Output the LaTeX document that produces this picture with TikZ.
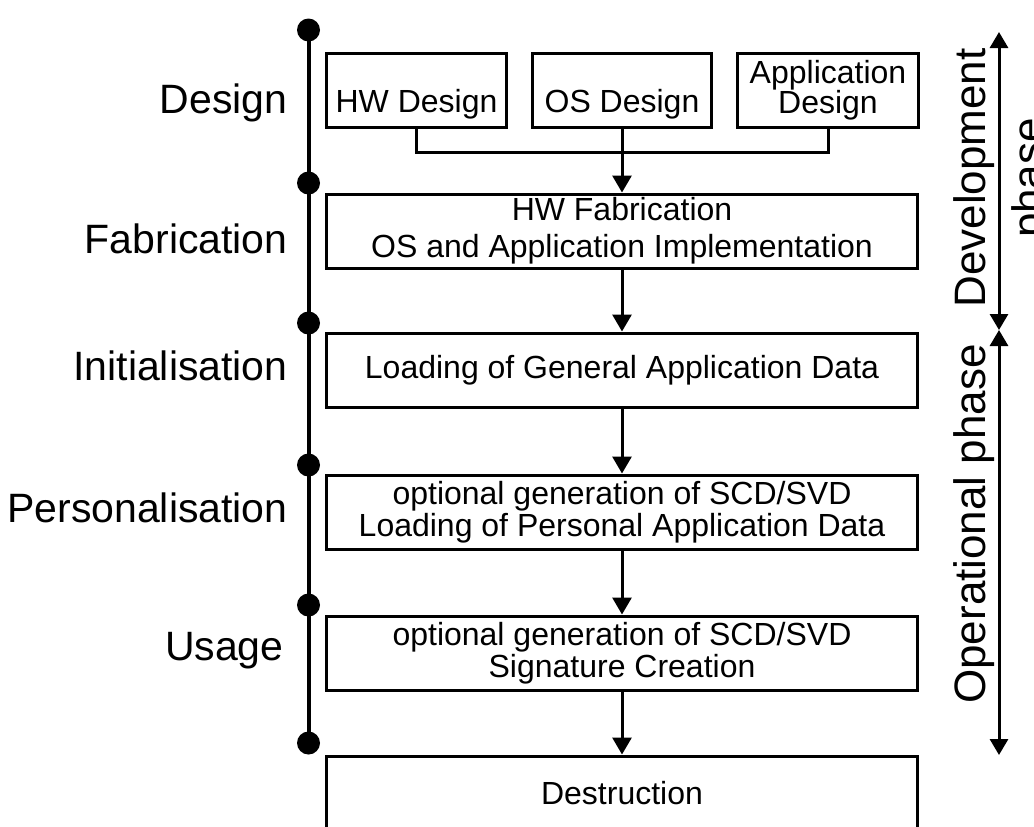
\documentclass[tikz,border=0pt]{standalone}
\usepackage{fontspec}
\setmainfont{Liberation Sans}
\usetikzlibrary{arrows.meta}
\begin{document}
\begin{tikzpicture}[x=0.5pt,y=-0.5pt,
  box/.style={draw,line width=1.5pt,inner sep=0pt,align=center,minimum height=37pt,
    font={\fontsize{16}{#1}\selectfont\lineskiplimit=-20pt}},
  box/.default=17,
  stage/.style={anchor=base east,inner sep=0pt,font=\fontsize{20.5}{24}\selectfont},
  phase/.style={rotate=90,inner sep=0pt,align=center,
    font={\fontsize{22}{29}\selectfont\lineskiplimit=-20pt}},
  dot/.style={circle,fill,inner sep=0pt,minimum size=11.5pt},
  arr/.style={line width=1.5pt,-{Triangle[length=8.5pt,width=9.5pt]}},
  phasearr/.style={line width=1.5pt,{Triangle[length=8pt,width=9pt]}-{Triangle[length=8pt,width=9pt]}}]
\useasboundingbox (0,0) rectangle (1034,826);
\clip (0,0) rectangle (1034,826);
% life cycle line
\foreach \y [count=\i] in {30,183,323,465,605,743}
  \node[dot] (d\i) at (308.5,\y) {};
\draw[line width=2pt] (d1.center) -- (d6.center);
\node[stage] (sDesign) at (288,113) {Design};
\node[stage] (sFab) at (288,253) {Fabrication};
\node[stage] (sInit) at (288,380) {Initialisation};
\node[stage] (sPers) at (288,522) {Personalisation};
\node[stage] (sUsage) at (284,660) {Usage};
% steps
\node[box,minimum width=90pt,text height=22pt,text depth=0pt] (hw) at (416.5,90) {HW Design};
\node[box,minimum width=89.5pt,text height=22pt,text depth=0pt] (os) at (622,90) {OS Design};
\node[box=15,minimum width=90.5pt] (app) at (828,90) {Application\\Design};
\node[box=18.5,minimum width=295.5pt] (fab) at (622,231) {HW Fabrication\\OS and Application Implementation};
\node[box,minimum width=295.5pt] (init) at (622,370) {Loading of General Application Data};
\node[box=16,minimum width=295.5pt] (pers) at (622,512) {optional generation of SCD/SVD\\Loading of Personal Application Data};
\node[box=16,minimum width=295.5pt] (usage) at (622,653) {optional generation of SCD/SVD\\Signature Creation};
\node[box,minimum width=295.5pt] (dest) at (622,793) {Destruction};
\coordinate (bus) at (622,152);
\draw[line width=1.5pt] (hw.south) |- (bus) -| (app.south);
\draw[arr] (os.south) -- (fab.north);
\draw[arr] (fab) -- (init);
\draw[arr] (init) -- (pers);
\draw[arr] (pers) -- (usage);
\draw[arr] (usage) -- (dest);
% phases
\coordinate (devtop) at (999,32);
\coordinate (split) at (999,330);
\coordinate (opbot) at (999,755);
\draw[phasearr] (devtop) -- (split);
\draw[phasearr] (split) -- (opbot);
\node[phase,anchor=north] (dev) at (953,178) {Development\\phase};
\node[phase,anchor=base] (op) at (985,524) {Operational phase};
\end{tikzpicture}
\end{document}
